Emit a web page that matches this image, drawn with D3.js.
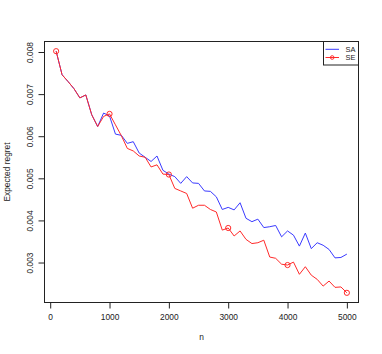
<!DOCTYPE html>
<html>
<head>
<meta charset="utf-8">
<script src="https://cdn.jsdelivr.net/npm/d3@7"></script>
<style>
  body { margin: 0; background: #fff; }
  svg { display: block; font-family: "Liberation Sans", Arial, sans-serif; }
</style>
</head>
<body>
<svg id="chart"></svg>
<script>
// sample sizes
const nValues = [100, 200, 300, 400, 500, 600, 700, 800, 900, 1000,
  1100, 1200, 1300, 1400, 1500, 1600, 1700, 1800, 1900, 2000,
  2100, 2200, 2300, 2400, 2500, 2600, 2700, 2800, 2900, 3000,
  3100, 3200, 3300, 3400, 3500, 3600, 3700, 3800, 3900, 4000,
  4100, 4200, 4300, 4400, 4500, 4600, 4700, 4800, 4900, 5000];

const saRegret = [0.00802, 0.00746, 0.00730, 0.00713, 0.00691, 0.00698, 0.00651, 0.00623, 0.00655, 0.00648,
  0.00605, 0.00602, 0.00583, 0.00587, 0.00560, 0.00550, 0.00540, 0.00553, 0.00519, 0.00510,
  0.00504, 0.00488, 0.00504, 0.00489, 0.00488, 0.00470, 0.00469, 0.00456, 0.00426, 0.00431,
  0.00425, 0.00442, 0.00405, 0.00397, 0.00403, 0.00383, 0.00385, 0.00388, 0.00361, 0.00375,
  0.00365, 0.00339, 0.00370, 0.00333, 0.00347, 0.00341, 0.00331, 0.00311, 0.00312, 0.00320];

const seRegret = [0.00802, 0.00746, 0.00730, 0.00713, 0.00691, 0.00698, 0.00651, 0.00623, 0.00647, 0.00653,
  0.00627, 0.00601, 0.00571, 0.00565, 0.00553, 0.00550, 0.00527, 0.00532, 0.00510, 0.00509,
  0.00476, 0.00470, 0.00464, 0.00429, 0.00436, 0.00436, 0.00426, 0.00420, 0.00377, 0.00382,
  0.00363, 0.00375, 0.00355, 0.00345, 0.00347, 0.00353, 0.00313, 0.00310, 0.00296, 0.00294,
  0.00301, 0.00272, 0.00290, 0.00270, 0.00260, 0.00244, 0.00256, 0.00241, 0.00242, 0.00228];

// points where SE gets an open circle
const markedN = [100, 1000, 2000, 3000, 4000, 5000];

const xTicks = [0, 1000, 2000, 3000, 4000, 5000];
const yTicks = [0.003, 0.004, 0.005, 0.006, 0.007, 0.008];

const seriesNames = ["SA", "SE"];
const seriesColors = ["#3a3aff", "#ff2a2a"];

function drawChart() {
  const W = 382, H = 354;
  const plot = { left: 44.5, right: 358.5, top: 41.5, bottom: 302.5 };

  const svg = d3.select("#chart")
    .attr("width", W)
    .attr("height", H);

  svg.append("rect").attr("width", W).attr("height", H).attr("fill", "#fff");

  // R style: data range stretched by 4% each side
  const xExt = d3.extent(nValues);
  const xPad = (xExt[1] - xExt[0]) * 0.04;
  const allY = saRegret.concat(seRegret);
  const yExt = d3.extent(allY);
  const yPad = (yExt[1] - yExt[0]) * 0.04;

  const x = d3.scaleLinear()
    .domain([xExt[0] - xPad, xExt[1] + xPad])
    .range([plot.left, plot.right]);

  const y = d3.scaleLinear()
    .domain([yExt[0] - yPad, yExt[1] + yPad])
    .range([plot.bottom, plot.top]);

  const line = d3.line()
    .x(d => x(d[0]))
    .y(d => y(d[1]));

  // SA first, SE on top
  svg.append("path")
    .datum(nValues.map((n, i) => [n, saRegret[i]]))
    .attr("d", line)
    .attr("fill", "none")
    .attr("stroke", seriesColors[0])
    .attr("stroke-width", 1);

  svg.append("path")
    .datum(nValues.map((n, i) => [n, seRegret[i]]))
    .attr("d", line)
    .attr("fill", "none")
    .attr("stroke", seriesColors[1])
    .attr("stroke-width", 1);

  svg.append("g")
    .selectAll("circle")
    .data(markedN)
    .enter().append("circle")
    .attr("cx", d => x(d))
    .attr("cy", d => y(seRegret[nValues.indexOf(d)]))
    .attr("r", 2.6)
    .attr("fill", "none")
    .attr("stroke", seriesColors[1])
    .attr("stroke-width", 1);

  // plot box
  svg.append("rect")
    .attr("x", plot.left)
    .attr("y", plot.top)
    .attr("width", plot.right - plot.left)
    .attr("height", plot.bottom - plot.top)
    .attr("fill", "none")
    .attr("stroke", "#222")
    .attr("stroke-width", 1);

  // x axis
  const xAxis = svg.append("g")
    .attr("transform", `translate(0,${plot.bottom})`)
    .call(d3.axisBottom(x).tickValues(xTicks).tickSize(6).tickPadding(3).tickFormat(d3.format("d")));
  xAxis.select(".domain").remove();
  xAxis.selectAll("line").attr("stroke", "#222");
  xAxis.selectAll("text")
    .attr("fill", "#222")
    .style("font-size", "8.4px")
    .attr("y", 17.5)
    .attr("dy", null);

  // y axis, labels turned like R's default
  const yAxis = svg.append("g")
    .attr("transform", `translate(${plot.left},0)`)
    .call(d3.axisLeft(y).tickValues(yTicks).tickSize(6).tickFormat(d3.format(".3f")));
  yAxis.select(".domain").remove();
  yAxis.selectAll("line").attr("stroke", "#222");
  yAxis.selectAll("text")
    .attr("fill", "#222")
    .style("font-size", "8.4px")
    .attr("x", null)
    .attr("dy", null)
    .attr("text-anchor", "middle")
    .attr("transform", "translate(-11.3,0) rotate(-90)");

  svg.append("text")
    .attr("x", (plot.left + plot.right) / 2)
    .attr("y", 340)
    .attr("text-anchor", "middle")
    .style("font-size", "8.4px")
    .attr("fill", "#222")
    .text("n");

  svg.append("text")
    .attr("transform", `translate(9.5,${(plot.top + plot.bottom) / 2}) rotate(-90)`)
    .attr("text-anchor", "middle")
    .style("font-size", "8.4px")
    .attr("fill", "#222")
    .text("Expected regret");

  // legend
  const legend = svg.append("g");
  legend.append("rect")
    .attr("x", 323.5)
    .attr("y", plot.top)
    .attr("width", plot.right - 323.5)
    .attr("height", 23.5)
    .attr("fill", "#fff")
    .attr("stroke", "#222")
    .attr("stroke-width", 1);

  seriesNames.forEach((name, i) => {
    const ly = 49.3 + i * 8.2;
    legend.append("line")
      .attr("x1", 325.5).attr("x2", 339)
      .attr("y1", ly).attr("y2", ly)
      .attr("stroke", seriesColors[i])
      .attr("stroke-width", 1);
    if (i === 1) {
      legend.append("circle")
        .attr("cx", 332.2).attr("cy", ly).attr("r", 1.8)
        .attr("fill", "none")
        .attr("stroke", seriesColors[i]);
    }
    legend.append("text")
      .attr("x", 345.5)
      .attr("y", ly + 2.6)
      .style("font-size", "7.4px")
      .attr("fill", "#222")
      .text(name);
  });
}

drawChart();
</script>
</body>
</html>
